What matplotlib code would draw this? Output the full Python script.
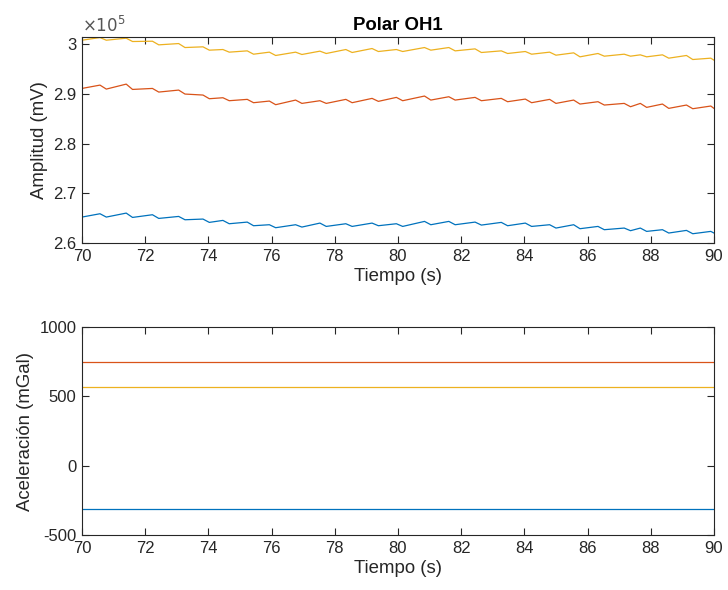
import numpy as np
import matplotlib
matplotlib.use("Agg")
import matplotlib.pyplot as plt
from matplotlib.ticker import FuncFormatter, MultipleLocator

plt.rcParams['font.family'] = ['Liberation Sans', 'DejaVu Sans']
plt.rcParams['axes.unicode_minus'] = False

# sample times (s): ripple peaks and the trough just after each one
t = [70.00,
     70.57, 70.77, 71.40, 71.60, 72.23, 72.43, 73.06, 73.26, 73.83, 74.03,
     74.46, 74.66, 75.23, 75.43, 75.93, 76.13, 76.76, 76.96, 77.53, 77.73,
     78.35, 78.55, 79.18, 79.38, 79.95, 80.15, 80.84, 81.04, 81.61, 81.81,
     82.44, 82.64, 83.27, 83.47, 84.03, 84.23, 84.80, 85.00, 85.56, 85.76,
     86.33, 86.53, 87.16, 87.36, 87.67, 87.87, 88.37, 88.57, 89.13, 89.33,
     89.90, 90.00]

# amplitude (mV)
amp_blue = [265220,
            265890, 265220, 266020, 265150, 265690, 264950, 265350, 264680,
            264820, 264150, 264550, 263880, 264210, 263480, 263680, 263080,
            263680, 263210, 264010, 263340, 263880, 263340, 264010, 263480,
            263880, 263340, 264350, 263680, 264350, 263680, 264210, 263610,
            264150, 263480, 264010, 263340, 263680, 263010, 263680, 262880,
            263340, 262680, 263010, 262480, 263010, 262340, 262680, 262010,
            262540, 261870, 262340, 262010]
amp_red = [291100,
           291770, 290970, 291970, 290900, 291100, 290370, 290770, 289970,
           289770, 289030, 289230, 288630, 288900, 288230, 288560, 287830,
           288760, 288090, 288630, 288090, 288900, 288230, 289100, 288500,
           289300, 288630, 289570, 288760, 289430, 288760, 289300, 288630,
           289100, 288430, 288960, 288230, 288900, 288090, 288760, 287960,
           288430, 287760, 288090, 287420, 288090, 287290, 287960, 287090,
           287760, 287020, 287560, 287090]
amp_yellow = [300800,
              301340, 300800, 301210, 300540, 300600, 299870, 300130, 299330,
              299470, 298800, 298930, 298400, 298660, 297990, 298400, 297730,
              298400, 297930, 298600, 298130, 298930, 298330, 299130, 298530,
              298930, 298530, 299330, 298800, 299330, 298660, 299060, 298330,
              298660, 298130, 298530, 297990, 298400, 297790, 298260, 297460,
              298130, 297590, 297990, 297590, 297860, 297460, 297860, 297190,
              297730, 296920, 297190, 296790]

# acceleration (mGal), constant over the window
acc_blue = -312
acc_red = 750
acc_yellow = 565

c_blue = '#0072BD'
c_red = '#D95319'
c_yellow = '#EDB120'
txt = '#262626'

fig = plt.figure(figsize=(7.28, 5.90), dpi=100)
ax1 = fig.add_axes([0.1126, 0.5881, 0.8681, 0.3492])
ax2 = fig.add_axes([0.1126, 0.0932, 0.8681, 0.3525])

tt = np.array(t)
ax1.plot(tt, amp_blue, color=c_blue, lw=0.9)
ax1.plot(tt, amp_red, color=c_red, lw=0.9)
ax1.plot(tt, amp_yellow, color=c_yellow, lw=0.9)
ax1.set_xlim(70, 90)
ax1.set_ylim(260000, 301450)
ax1.yaxis.set_major_locator(MultipleLocator(10000))
ax1.yaxis.set_major_formatter(FuncFormatter(lambda v, p: '%g' % round(v / 1e5, 2)))
ax1.text(0, 1.012, r'$\times10^{5}$', transform=ax1.transAxes, ha='left', va='bottom',
         fontsize=12, color='#555555')
ax1.set_title('Polar OH1', fontsize=13.4, fontweight='bold', color='#000000', pad=5)
ax1.set_ylabel('Amplitud (mV)', fontsize=13.4, color=txt)

ax2.plot(tt, np.full_like(tt, acc_blue), color=c_blue, lw=0.9)
ax2.plot(tt, np.full_like(tt, acc_red), color=c_red, lw=0.9)
ax2.plot(tt, np.full_like(tt, acc_yellow), color=c_yellow, lw=0.9)
ax2.set_xlim(70, 90)
ax2.set_ylim(-500, 1000)
ax2.yaxis.set_major_locator(MultipleLocator(500))
ax2.set_ylabel('Aceleración (mGal)', fontsize=13.4, color=txt)

for ax in (ax1, ax2):
    ax.xaxis.set_major_locator(MultipleLocator(2))
    ax.set_xlabel('Tiempo (s)', fontsize=13.4, color=txt, labelpad=3)
    ax.tick_params(direction='in', top=True, right=True, length=5, width=0.8,
                   labelsize=12, colors=txt, pad=4)
    for s in ax.spines.values():
        s.set_color(txt)
        s.set_linewidth(0.8)

fig.savefig('out.png', dpi=100)
